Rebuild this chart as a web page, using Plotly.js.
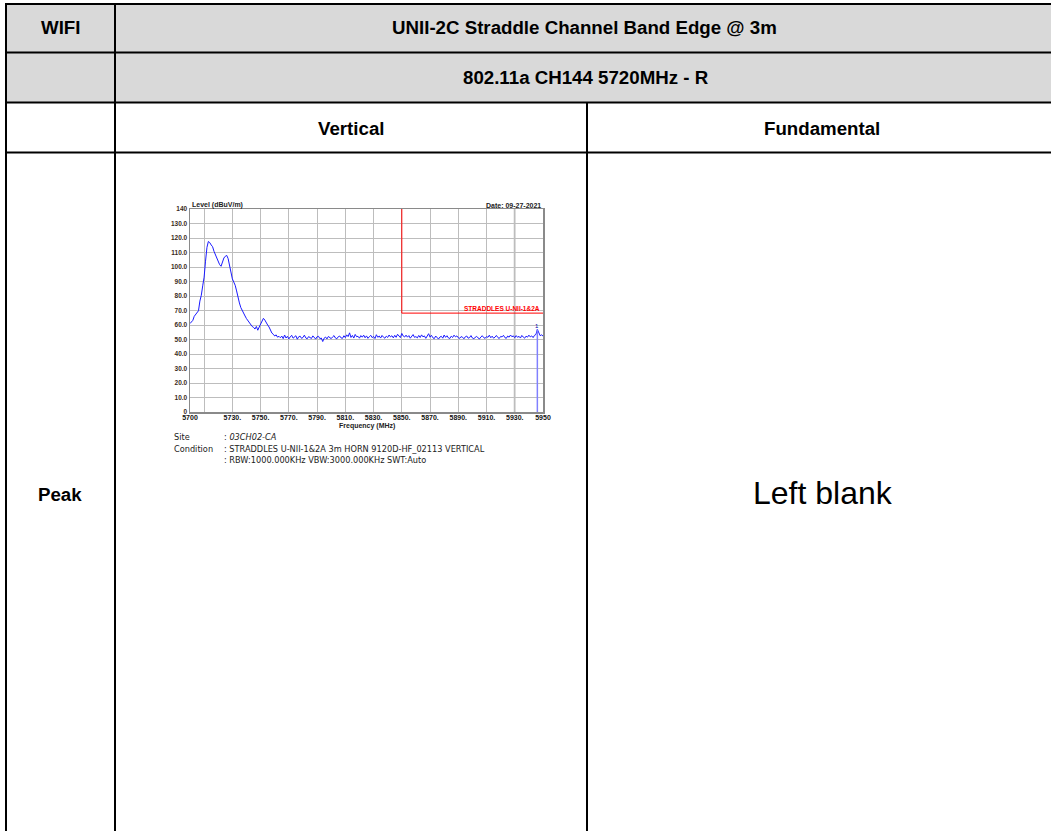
<!DOCTYPE html>
<html>
<head>
<meta charset="utf-8">
<script src="https://cdn.plot.ly/plotly-3.0.1.min.js"></script>
<style>html,body{margin:0;padding:0;background:#fff;}#chart{width:1051px;height:831px;}</style>
</head>
<body>
<div id="chart"></div>
<script>
// ---- data ----
const START_FREQ = 5700;   // MHz, first sweep point
const FREQ_STEP = 1;       // MHz between sweep points
const levelVertical = [
  61.0, 62.5, 63.2, 66.0, 67.3, 68.6, 69.8, 76.5, 80.5, 87.0,
  93.0, 104.0, 113.5, 117.6, 116.8, 115.2, 114.0, 110.8, 108.2, 106.4,
  103.9, 101.6, 100.5, 103.4, 106.2, 107.4, 108.0, 105.8, 101.2, 96.0,
  91.8, 89.6, 87.4, 83.5, 78.0, 75.2, 72.0, 70.4, 68.6, 66.2,
  64.4, 63.0, 61.2, 60.6, 59.0, 58.4, 57.2, 59.0, 56.4, 58.6,
  61.0, 63.2, 64.6, 63.4, 61.4, 60.0, 58.6, 56.2, 54.4, 53.6,
  52.4, 53.2, 51.6, 52.2,
  51.2, 52.4, 50.6, 53.1, 51.0, 52.2, 50.4, 51.8, 52.9, 50.9,
  51.5, 52.6, 50.2, 51.9, 52.3, 50.8, 51.4, 53.0, 51.1, 50.5,
  52.0, 51.3, 50.7, 52.5, 51.6, 50.3, 51.9, 52.2, 50.6, 51.0,
  48.6, 50.9, 51.7, 50.4, 52.1, 51.2, 50.6, 51.8, 52.7, 51.0,
  50.5, 51.9, 52.4, 51.1, 50.8, 52.6, 51.3, 53.2, 52.0, 54.6,
  51.4, 52.8, 51.0, 53.5, 51.9, 52.2, 50.9, 52.7, 51.6, 53.0,
  51.2, 52.5, 50.8, 51.9, 52.9, 51.3, 52.1, 50.7, 53.3, 51.5,
  52.4, 51.0, 52.8, 51.6, 50.9, 52.3, 51.4, 53.1, 51.8, 52.6,
  51.1, 52.9, 51.5, 53.6, 52.0, 51.3, 54.2, 52.4, 51.7, 53.0,
  51.6, 52.7, 50.9, 52.2, 53.4, 51.5, 52.0, 51.1, 52.8, 51.4,
  53.2, 51.8, 52.5, 50.8, 52.1, 54.0, 51.6, 52.9, 51.2, 50.6,
  52.4, 51.0, 50.3, 51.7, 52.2, 50.9, 53.1, 51.5, 52.6, 51.1,
  50.7, 52.3, 51.4, 53.0, 51.8, 52.5, 51.2, 50.8, 52.0, 51.6,
  50.5, 51.9, 52.4, 50.9, 51.3, 52.7, 51.0, 50.6, 51.8, 52.2,
  51.1, 50.4, 51.7, 52.6, 51.3, 50.8, 52.0, 51.5, 53.0, 51.2,
  52.3, 50.9, 51.6, 52.8, 51.4, 50.7, 52.1, 51.8, 52.9, 51.3,
  50.8, 52.4, 51.6, 53.1, 51.9, 52.5, 51.2, 52.7, 51.5, 52.2,
  51.0, 52.8, 51.7, 50.9, 52.3, 51.6, 53.0, 51.8, 52.5, 51.3,
  52.9, 53.5, 57.0, 54.0, 52.6, 53.2, 52.4
];
const limitFreq = [5850, 5850, 5950];
const limitLevel = [140, 68.2, 68.2];
const limitName = "STRADDLES U-NII-1&2A";
const markerFreq = [5946, 5946];
const markerLevel = [57, 0];
const markerLabel = "1";
const xTickVals = [5700, 5730, 5750, 5770, 5790, 5810, 5830, 5850, 5870, 5890, 5910, 5930, 5950];
const xTickText = ["5700", "5730.", "5750.", "5770.", "5790.", "5810.", "5830.", "5850.", "5870.", "5890.", "5910.", "5930.", "5950"];
const yTickVals = [0, 10, 20, 30, 40, 50, 60, 70, 80, 90, 100, 110, 120, 130, 140];
const yTickText = ["0", "10.0", "20.0", "30.0", "40.0", "50.0", "60.0", "70.0", "80.0", "90.0", "100.0", "110.0", "120.0", "130.0", "140"];
const headerTitle = "UNII-2C Straddle Channel Band Edge @ 3m";
const headerMode = "802.11a CH144 5720MHz - R";
const colLabels = ["Vertical", "Fundamental"];
const rowLabel = "Peak";
const blankText = "Left blank";
const siteText = "<i>03CH02-CA</i>";
const conditionText = "STRADDLES U-NII-1&2A 3m HORN 9120D-HF_02113 VERTICAL";
const settingsText = "RBW:1000.000KHz VBW:3000.000KHz SWT:Auto";
const dateText = "Date: 09-27-2021";

// ---- layout helpers (page pixels -> paper fractions) ----
const W = 1051, H = 831;
const px = v => v / W;
const py = v => 1 - v / H;
const ARIAL = "Arial, 'Liberation Sans', sans-serif";
const SMALL = "'DejaVu Sans', sans-serif";

const traces = [
  {x0: START_FREQ, dx: FREQ_STEP, y: levelVertical, type: "scatter", mode: "lines",
   line: {color: "#1a1aff", width: 1}, hoverinfo: "skip", showlegend: false},
  {x: limitFreq, y: limitLevel, type: "scatter", mode: "lines",
   line: {color: "#ff0000", width: 1}, hoverinfo: "skip", showlegend: false},
  {x: markerFreq, y: markerLevel, type: "scatter", mode: "lines",
   line: {color: "#8080ff", width: 1.5}, hoverinfo: "skip", showlegend: false}
];

const shapes = [];
// gray header fill
shapes.push({type: "rect", xref: "paper", yref: "paper", x0: px(6), x1: px(1051), y0: py(4), y1: py(102),
             fillcolor: "#d9d9d9", line: {width: 0}, layer: "below"});
const hLine = (y, x0, x1) => shapes.push({type: "line", xref: "paper", yref: "paper", x0: px(x0), x1: px(x1), y0: py(y), y1: py(y), line: {color: "#000", width: 2}});
const vLine = (x, y0, y1) => shapes.push({type: "line", xref: "paper", yref: "paper", x0: px(x), x1: px(x), y0: py(y0), y1: py(y1), line: {color: "#000", width: 2}});
hLine(4, 5, 1051); hLine(52.5, 5, 1051); hLine(102.5, 5, 1051); hLine(152.5, 5, 1051);
vLine(6, 3, 831); vLine(115, 3, 831); vLine(587, 102, 831);
// light 5930 grid column
shapes.push({type: "line", xref: "x", yref: "y", x0: 5930, x1: 5930, y0: 0, y1: 140, line: {color: "#dcdcdc", width: 2.5}, layer: "below"});

const ann = (text, x, y, size, opts = {}) => Object.assign({
  text, xref: "paper", yref: "paper", x: px(x), y: py(y), showarrow: false,
  xanchor: "center", yanchor: "middle", font: {family: ARIAL, size, color: "#000"}
}, opts);
const smallFont = {family: SMALL, size: 8.2, color: "#222"};

const annotations = [
  ann("<b>WIFI</b>", 60, 28, 18.7),
  ann("<b>" + headerTitle + "</b>", 584, 28, 18.7),
  ann("<b>" + headerMode + "</b>", 586, 77, 18.7),
  ann("<b>" + colLabels[0] + "</b>", 351, 128, 18.7),
  ann("<b>" + colLabels[1] + "</b>", 822, 128, 18.7),
  ann("<b>" + rowLabel + "</b>", 60, 494, 18.7),
  ann(blankText, 823, 493, 32),
  // chart decorations
  {text: "<b>Level (dBuV/m)</b>", xref: "x domain", yref: "y domain", x: 0, y: 1, xanchor: "left", yanchor: "bottom",
   showarrow: false, font: {family: ARIAL, size: 7, color: "#222"}, yshift: -2},
  {text: "<b>" + dateText + "</b>", xref: "x domain", yref: "y domain", x: 1, y: 1, xanchor: "right", yanchor: "bottom",
   showarrow: false, font: {family: ARIAL, size: 7, color: "#222"}, yshift: -2},
  {text: "<b>Frequency (MHz)</b>", xref: "x domain", yref: "paper", x: 0.5, y: py(426), xanchor: "center", yanchor: "middle",
   showarrow: false, font: {family: ARIAL, size: 7, color: "#222"}},
  {text: "<b>" + limitName + "</b>", xref: "x", yref: "y", x: limitFreq[2], y: limitLevel[2], xanchor: "right", yanchor: "bottom",
   showarrow: false, font: {family: ARIAL, size: 6.5, color: "#ff0000"}, xshift: -1, yshift: -1},
  {text: markerLabel, xref: "x", yref: "y", x: markerFreq[0], y: markerLevel[0], xanchor: "center", yanchor: "bottom",
   showarrow: false, font: {family: ARIAL, size: 6, color: "#0000aa"}, yshift: -2},
  ann("Site", 172, 437, 8.2, {xanchor: "left", font: smallFont}),
  ann(": " + siteText, 222, 437, 8.2, {xanchor: "left", font: smallFont}),
  ann("Condition", 172, 449, 8.2, {xanchor: "left", font: smallFont}),
  ann(": " + conditionText, 222, 449, 8.2, {xanchor: "left", font: smallFont}),
  ann(": " + settingsText, 222, 460, 8.2, {xanchor: "left", font: smallFont})
];

const layout = {
  width: W, height: H,
  margin: {l: 0, r: 0, t: 0, b: 0, pad: 0},
  paper_bgcolor: "#ffffff", plot_bgcolor: "#ffffff",
  showlegend: false,
  xaxis: {domain: [px(190), px(543)], range: [5700, 5950], tickmode: "array", tickvals: xTickVals, ticktext: xTickText,
          showgrid: false, zeroline: false, showline: true, mirror: true, linecolor: "#8a8a8a", linewidth: 1.5,
          ticks: "", ticklen: 0, ticklabelstandoff: -2, tickfont: {family: ARIAL, size: 7, color: "#111", weight: "bold"},
          minor: {tick0: 5710, dtick: 20, showgrid: true, gridcolor: "#bdbdbd", gridwidth: 1, ticks: ""},
          fixedrange: true},
  yaxis: {domain: [py(412), py(209)], range: [0, 140], tickmode: "array", tickvals: yTickVals, ticktext: yTickText,
          showgrid: true, gridcolor: "#bdbdbd", gridwidth: 1, zeroline: false, showline: true, mirror: true,
          linecolor: "#8a8a8a", linewidth: 1.5, ticks: "", ticklen: 0,
          tickfont: {family: ARIAL, size: 6.5, color: "#3a2a20", weight: "bold"}, fixedrange: true},
  shapes, annotations
};

Plotly.newPlot("chart", traces, layout, {staticPlot: true, displayModeBar: false});
</script>
</body>
</html>
